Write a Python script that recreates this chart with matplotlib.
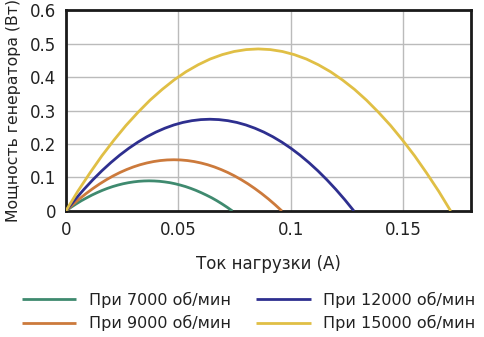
import matplotlib
matplotlib.use('Agg')
import matplotlib.pyplot as plt

plt.rcParams['font.family'] = ['DejaVu Sans']

# Мощность генератора от тока нагрузки при разных оборотах
current_7000 = [0, 0.0023, 0.0046, 0.0069, 0.0093, 0.0116, 0.0139, 0.0162, 0.0185,
                0.0208, 0.0231, 0.0254, 0.0278, 0.0301, 0.0324, 0.0347, 0.037,
                0.0393, 0.0416, 0.0439, 0.0463, 0.0486, 0.0509, 0.0532, 0.0555,
                0.0578, 0.0601, 0.0624, 0.0648, 0.0671, 0.0694, 0.0717, 0.074]
power_7000 = [0, 0.0109, 0.0211, 0.0306, 0.0394, 0.0475, 0.0548, 0.0615, 0.0675,
              0.0728, 0.0773, 0.0812, 0.0844, 0.0868, 0.0886, 0.0896, 0.09,
              0.0896, 0.0886, 0.0868, 0.0844, 0.0812, 0.0773, 0.0728, 0.0675,
              0.0615, 0.0548, 0.0475, 0.0394, 0.0306, 0.0211, 0.0109, 0]

current_9000 = [0, 0.003, 0.006, 0.009, 0.012, 0.015, 0.018, 0.021, 0.024,
                0.027, 0.030, 0.033, 0.036, 0.039, 0.042, 0.045, 0.048,
                0.051, 0.054, 0.057, 0.060, 0.063, 0.066, 0.069, 0.072,
                0.075, 0.078, 0.081, 0.084, 0.087, 0.090, 0.093, 0.096]
power_9000 = [0, 0.0185, 0.0359, 0.0520, 0.0669, 0.0807, 0.0932, 0.1046, 0.1148,
              0.1237, 0.1315, 0.1381, 0.1434, 0.1476, 0.1506, 0.1524, 0.153,
              0.1524, 0.1506, 0.1476, 0.1434, 0.1381, 0.1315, 0.1237, 0.1148,
              0.1046, 0.0932, 0.0807, 0.0669, 0.0520, 0.0359, 0.0185, 0]

current_12000 = [0, 0.004, 0.008, 0.012, 0.016, 0.020, 0.024, 0.028, 0.032,
                 0.036, 0.040, 0.044, 0.048, 0.052, 0.056, 0.060, 0.064,
                 0.068, 0.072, 0.076, 0.080, 0.084, 0.088, 0.092, 0.096,
                 0.100, 0.104, 0.108, 0.112, 0.116, 0.120, 0.124, 0.128]
power_12000 = [0, 0.0332, 0.0642, 0.0931, 0.1199, 0.1445, 0.1670, 0.1873, 0.2055,
               0.2216, 0.2355, 0.2472, 0.2569, 0.2644, 0.2697, 0.2729, 0.274,
               0.2729, 0.2697, 0.2644, 0.2569, 0.2472, 0.2355, 0.2216, 0.2055,
               0.1873, 0.1670, 0.1445, 0.1199, 0.0931, 0.0642, 0.0332, 0]

current_15000 = [0, 0.0053, 0.0107, 0.0160, 0.0214, 0.0267, 0.0321, 0.0374, 0.0428,
                 0.0481, 0.0534, 0.0588, 0.0641, 0.0695, 0.0748, 0.0802, 0.0855,
                 0.0908, 0.0962, 0.1015, 0.1069, 0.1122, 0.1176, 0.1229, 0.1283,
                 0.1336, 0.1389, 0.1443, 0.1496, 0.1550, 0.1603, 0.1657, 0.171]
power_15000 = [0, 0.0586, 0.1134, 0.1645, 0.2118, 0.2552, 0.2949, 0.3309, 0.3630,
               0.3914, 0.4159, 0.4367, 0.4538, 0.4670, 0.4764, 0.4821, 0.484,
               0.4821, 0.4764, 0.4670, 0.4538, 0.4367, 0.4159, 0.3914, 0.3630,
               0.3309, 0.2949, 0.2552, 0.2118, 0.1645, 0.1134, 0.0586, 0]

labels = ['При 7000 об/мин', 'При 9000 об/мин', 'При 12000 об/мин', 'При 15000 об/мин']
colors = ['#3f8a6f', '#cc7a3c', '#2e2f8f', '#e0bf45']

x_ticks = [0, 0.05, 0.1, 0.15]
x_tick_labels = ['0', '0.05', '0.1', '0.15']
y_ticks = [0, 0.1, 0.2, 0.3, 0.4, 0.5, 0.6]
y_tick_labels = ['0', '0.1', '0.2', '0.3', '0.4', '0.5', '0.6']

fig = plt.figure(figsize=(4.84, 3.37), dpi=100)
ax = fig.add_axes([0.136, 0.374, 0.837, 0.596])

series = [(current_7000, power_7000), (current_9000, power_9000),
          (current_12000, power_12000), (current_15000, power_15000)]
lines = []
for (xs, ys), lab, col in zip(series, labels, colors):
    ln, = ax.plot(xs, ys, color=col, lw=2, label=lab, solid_capstyle='butt', zorder=3)
    lines.append(ln)

ax.set_xlim(0, 0.18)
ax.set_ylim(0, 0.6)
ax.set_xticks(x_ticks)
ax.set_xticklabels(x_tick_labels)
ax.set_yticks(y_ticks)
ax.set_yticklabels(y_tick_labels)
ax.tick_params(length=0, labelsize=12, colors='#222222', pad=7)
ax.grid(True, color='#bbbbbb', lw=1)
ax.set_axisbelow(True)
for sp in ax.spines.values():
    sp.set_linewidth(2)
    sp.set_color('#1a1a1a')

ax.set_xlabel('Ток нагрузки (А)', fontsize=12, color='#222222', labelpad=12)
ax.set_ylabel('Мощность генератора (Вт)', fontsize=11.3, color='#222222', labelpad=6)

# легенда в две колонки под графиком
fig.legend(handles=lines, labels=labels,
           ncol=2, loc='lower left', bbox_to_anchor=(0.015, -0.026),
           frameon=False, fontsize=11.5, handlelength=3.4, columnspacing=1.6,
           labelspacing=0.45, handletextpad=0.8, labelcolor='#222222')

fig.savefig('out.png', dpi=100)
